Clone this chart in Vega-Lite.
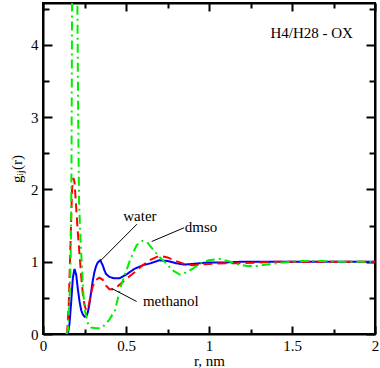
{
  "$schema": "https://vega.github.io/schema/vega-lite/v6.json",
  "width": 332,
  "height": 331,
  "autosize": "none",
  "padding": {"left": 43, "top": 3, "right": 5, "bottom": 34},
  "config": {
    "view": {"stroke": "black", "strokeWidth": 2},
    "font": "Liberation Serif",
    "text": {"font": "Liberation Serif"},
    "axis": {"grid": false, "domainColor": "black", "domainWidth": 2, "tickColor": "black", "tickWidth": 2, "labelFont": "Liberation Serif", "titleFont": "Liberation Serif", "labelFontSize": 15, "titleFontSize": 15, "titleFontWeight": "normal", "labelColor": "black", "titleColor": "black"}
  },
  "datasets": {
    "curves": [
      {"r":0.14,"g":0,"s":"water"},{"r":0.15,"g":0,"s":"water"},{"r":0.16,"g":0.15,"s":"water"},{"r":0.17,"g":0.45,"s":"water"},{"r":0.18,"g":0.78,"s":"water"},{"r":0.19,"g":0.9,"s":"water"},{"r":0.2,"g":0.82,"s":"water"},{"r":0.21,"g":0.62,"s":"water"},{"r":0.22,"g":0.45,"s":"water"},{"r":0.23,"g":0.33,"s":"water"},{"r":0.24,"g":0.27,"s":"water"},{"r":0.25,"g":0.24,"s":"water"},{"r":0.26,"g":0.24,"s":"water"},{"r":0.27,"g":0.3,"s":"water"},{"r":0.28,"g":0.42,"s":"water"},{"r":0.29,"g":0.58,"s":"water"},{"r":0.3,"g":0.74,"s":"water"},{"r":0.31,"g":0.86,"s":"water"},{"r":0.32,"g":0.94,"s":"water"},{"r":0.33,"g":0.99,"s":"water"},{"r":0.345,"g":1.02,"s":"water"},{"r":0.36,"g":0.95,"s":"water"},{"r":0.37,"g":0.88,"s":"water"},{"r":0.38,"g":0.83,"s":"water"},{"r":0.4,"g":0.79,"s":"water"},{"r":0.43,"g":0.77,"s":"water"},{"r":0.46,"g":0.77,"s":"water"},{"r":0.5,"g":0.82,"s":"water"},{"r":0.55,"g":0.9,"s":"water"},{"r":0.6,"g":0.95,"s":"water"},{"r":0.65,"g":0.98,"s":"water"},{"r":0.7,"g":1.02,"s":"water"},{"r":0.75,"g":1.01,"s":"water"},{"r":0.8,"g":0.98,"s":"water"},{"r":0.85,"g":0.96,"s":"water"},{"r":0.9,"g":0.97,"s":"water"},{"r":0.95,"g":0.98,"s":"water"},{"r":1.0,"g":0.99,"s":"water"},{"r":1.1,"g":0.99,"s":"water"},{"r":1.2,"g":1.0,"s":"water"},{"r":1.4,"g":1.0,"s":"water"},{"r":1.6,"g":1.0,"s":"water"},{"r":1.8,"g":1.0,"s":"water"},{"r":2.0,"g":1.0,"s":"water"},

      {"r":0.145,"g":0,"s":"methanol"},{"r":0.155,"g":0.4,"s":"methanol"},{"r":0.165,"g":1.2,"s":"methanol"},{"r":0.175,"g":2.0,"s":"methanol"},{"r":0.183,"g":2.16,"s":"methanol"},{"r":0.19,"g":2.1,"s":"methanol"},{"r":0.2,"g":1.75,"s":"methanol"},{"r":0.21,"g":1.4,"s":"methanol"},{"r":0.22,"g":1.1,"s":"methanol"},{"r":0.23,"g":0.8,"s":"methanol"},{"r":0.24,"g":0.55,"s":"methanol"},{"r":0.25,"g":0.4,"s":"methanol"},{"r":0.26,"g":0.33,"s":"methanol"},{"r":0.27,"g":0.35,"s":"methanol"},{"r":0.28,"g":0.45,"s":"methanol"},{"r":0.29,"g":0.57,"s":"methanol"},{"r":0.3,"g":0.66,"s":"methanol"},{"r":0.32,"g":0.75,"s":"methanol"},{"r":0.34,"g":0.78,"s":"methanol"},{"r":0.36,"g":0.75,"s":"methanol"},{"r":0.38,"g":0.67,"s":"methanol"},{"r":0.4,"g":0.62,"s":"methanol"},{"r":0.42,"g":0.62,"s":"methanol"},{"r":0.45,"g":0.66,"s":"methanol"},{"r":0.5,"g":0.76,"s":"methanol"},{"r":0.55,"g":0.85,"s":"methanol"},{"r":0.6,"g":0.95,"s":"methanol"},{"r":0.65,"g":1.03,"s":"methanol"},{"r":0.7,"g":1.08,"s":"methanol"},{"r":0.75,"g":1.06,"s":"methanol"},{"r":0.8,"g":1.01,"s":"methanol"},{"r":0.85,"g":0.97,"s":"methanol"},{"r":0.9,"g":0.95,"s":"methanol"},{"r":0.95,"g":0.96,"s":"methanol"},{"r":1.0,"g":0.97,"s":"methanol"},{"r":1.1,"g":0.98,"s":"methanol"},{"r":1.2,"g":0.98,"s":"methanol"},{"r":1.3,"g":0.99,"s":"methanol"},{"r":1.4,"g":1.0,"s":"methanol"},{"r":1.6,"g":1.0,"s":"methanol"},{"r":1.8,"g":1.0,"s":"methanol"},{"r":2.0,"g":1.0,"s":"methanol"},

      {"r":0.14,"g":0,"s":"dmso"},{"r":0.15,"g":0.05,"s":"dmso"},{"r":0.16,"g":0.5,"s":"dmso"},{"r":0.168,"g":1.2,"s":"dmso"},{"r":0.172,"g":2.5,"s":"dmso"},{"r":0.175,"g":4.6,"s":"dmso"},{"r":0.19,"g":7.0,"s":"dmso"},{"r":0.207,"g":4.6,"s":"dmso"},{"r":0.212,"g":3.0,"s":"dmso"},{"r":0.217,"g":1.85,"s":"dmso"},{"r":0.225,"g":1.35,"s":"dmso"},{"r":0.233,"g":1.0,"s":"dmso"},{"r":0.243,"g":0.55,"s":"dmso"},{"r":0.255,"g":0.3,"s":"dmso"},{"r":0.27,"g":0.15,"s":"dmso"},{"r":0.29,"g":0.09,"s":"dmso"},{"r":0.32,"g":0.08,"s":"dmso"},{"r":0.345,"g":0.08,"s":"dmso"},{"r":0.37,"g":0.12,"s":"dmso"},{"r":0.4,"g":0.2,"s":"dmso"},{"r":0.434,"g":0.33,"s":"dmso"},{"r":0.45,"g":0.48,"s":"dmso"},{"r":0.464,"g":0.63,"s":"dmso"},{"r":0.49,"g":0.8,"s":"dmso"},{"r":0.524,"g":1.02,"s":"dmso"},{"r":0.564,"g":1.23,"s":"dmso"},{"r":0.6,"g":1.29,"s":"dmso"},{"r":0.63,"g":1.26,"s":"dmso"},{"r":0.67,"g":1.15,"s":"dmso"},{"r":0.7,"g":1.07,"s":"dmso"},{"r":0.745,"g":0.97,"s":"dmso"},{"r":0.78,"g":0.88,"s":"dmso"},{"r":0.825,"g":0.82,"s":"dmso"},{"r":0.86,"g":0.85,"s":"dmso"},{"r":0.9,"g":0.9,"s":"dmso"},{"r":0.95,"g":0.98,"s":"dmso"},{"r":1.0,"g":1.02,"s":"dmso"},{"r":1.066,"g":1.04,"s":"dmso"},{"r":1.13,"g":1.0,"s":"dmso"},{"r":1.18,"g":0.96,"s":"dmso"},{"r":1.23,"g":0.94,"s":"dmso"},{"r":1.29,"g":0.94,"s":"dmso"},{"r":1.37,"g":0.97,"s":"dmso"},{"r":1.45,"g":0.99,"s":"dmso"},{"r":1.55,"g":1.01,"s":"dmso"},{"r":1.65,"g":1.01,"s":"dmso"},{"r":1.8,"g":1.0,"s":"dmso"},{"r":2.0,"g":1.0,"s":"dmso"}
    ],
    "labels": [
      {"r":0.584,"g":1.63,"t":"water"},
      {"r":0.952,"g":1.48,"t":"dmso"},
      {"r":0.77,"g":0.46,"t":"methanol"}
    ],
    "corner": [
      {"r":1.867,"g":4.17,"t":"H4/H28 - OX"}
    ],
    "leaders": [
      {"r":0.566,"g":1.52,"r2":0.345,"g2":1.01},
      {"r":0.85,"g":1.47,"r2":0.655,"g2":1.28},
      {"r":0.564,"g":0.45,"r2":0.414,"g2":0.63}
    ]
  },
  "resolve": {"axis": {"x": "independent", "y": "independent"}},
  "layer": [
    {
      "data": {"name": "curves"},
      "mark": {"type": "line", "clip": true, "strokeWidth": 2},
      "encoding": {
        "x": {"field": "r", "type": "quantitative", "scale": {"domain": [0, 2], "nice": false},
          "axis": {"values": [0,0.25,0.5,0.75,1,1.25,1.5,1.75,2], "format": "~g", "labelFont": "Liberation Serif", "titleFont": "Liberation Serif", "labelFontSize": 15, "titleFontSize": 15, "labelExpr": "datum.value % 0.5 === 0 ? datum.label : ''", "tickSize": {"condition": {"test": "datum.value % 0.5 === 0", "value": -8}, "value": -5}, "labelPadding": 12, "title": "r, nm", "titlePadding": 0, "labelFlush": false}},
        "y": {"field": "g", "type": "quantitative", "scale": {"domain": [0, 4.58], "nice": false, "zero": true},
          "axis": {"values": [0,0.5,1,1.5,2,2.5,3,3.5,4,4.5], "format": "~g", "labelFont": "Liberation Serif", "titleFont": "Liberation Serif", "labelFontSize": 15, "titleFontSize": 15, "labelExpr": "datum.value % 1 === 0 ? datum.label : ''", "tickSize": {"condition": {"test": "datum.value % 1 === 0", "value": -9}, "value": -6}, "labelPadding": 14, "title": "gᵢⱼ(r)", "titlePadding": 6}},
        "color": {"field": "s", "type": "nominal", "scale": {"domain": ["water","methanol","dmso"], "range": ["#0000ff","#ff0000","#00ee00"]}, "legend": null},
        "strokeDash": {"field": "s", "type": "nominal", "scale": {"domain": ["water","methanol","dmso"], "range": [[1,0],[9,5],[9,4,2,4]]}, "legend": null},
        "order": {"field": "r", "type": "quantitative"}
      }
    },
    {
      "data": {"name": "leaders"},
      "mark": {"type": "rule", "color": "black", "strokeWidth": 1},
      "encoding": {
        "x": {"field": "r", "type": "quantitative", "axis": {"orient": "top", "values": [0,0.25,0.5,0.75,1,1.25,1.5,1.75,2], "labels": false, "title": null, "tickSize": {"condition": {"test": "datum.value % 0.5 === 0", "value": -8}, "value": -5}}},
        "y": {"field": "g", "type": "quantitative", "axis": {"orient": "right", "values": [0,0.5,1,1.5,2,2.5,3,3.5,4,4.5], "labels": false, "title": null, "tickSize": {"condition": {"test": "datum.value % 1 === 0", "value": -9}, "value": -6}}},
        "x2": {"field": "r2"},
        "y2": {"field": "g2"}
      }
    },
    {
      "data": {"name": "labels"},
      "mark": {"type": "text", "fontSize": 15, "font": "Liberation Serif", "color": "black", "baseline": "middle", "align": "center"},
      "encoding": {
        "x": {"field": "r", "type": "quantitative", "axis": null},
        "y": {"field": "g", "type": "quantitative", "axis": null},
        "text": {"field": "t"}
      }
    },
    {
      "data": {"name": "corner"},
      "mark": {"type": "text", "fontSize": 15, "font": "Liberation Serif", "color": "black", "baseline": "middle", "align": "right"},
      "encoding": {
        "x": {"field": "r", "type": "quantitative", "axis": null},
        "y": {"field": "g", "type": "quantitative", "axis": null},
        "text": {"field": "t"}
      }
    }
  ]
}
